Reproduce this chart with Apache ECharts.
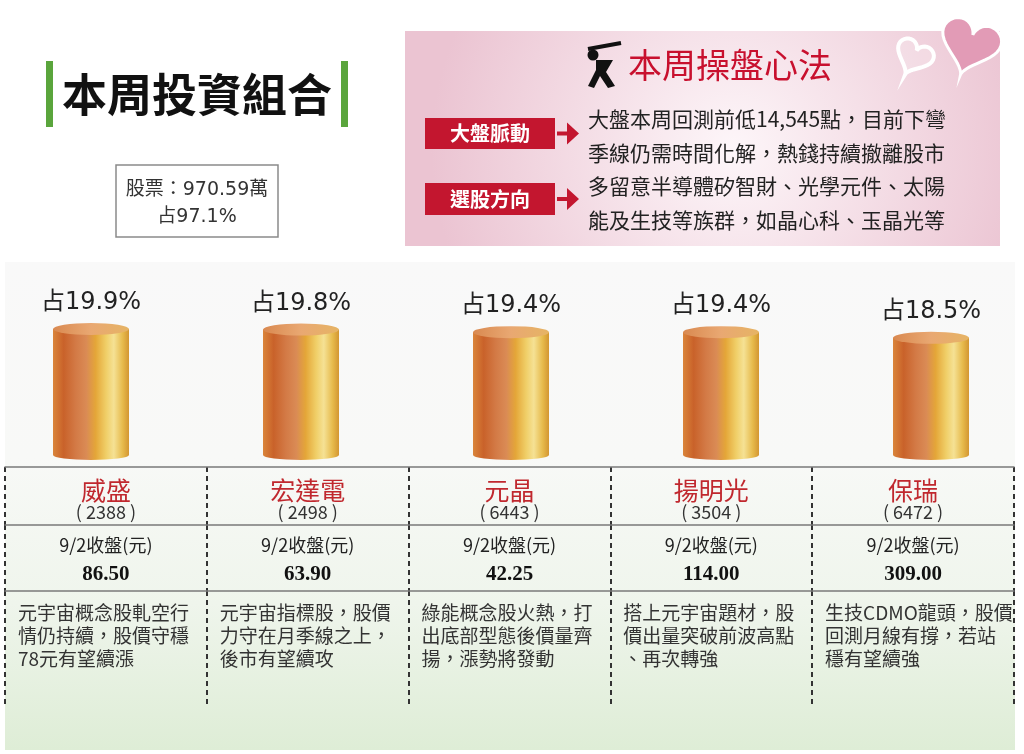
<!DOCTYPE html>
<html>
<head>
<meta charset="utf-8">
<title>本周投資組合</title>
<script src="https://cdn.jsdelivr.net/npm/echarts@6/dist/echarts.min.js"></script>
<style>
  html, body { margin: 0; padding: 0; background: #fff; }
  #main { width: 1024px; height: 754px; }
</style>
</head>
<body>
<div id="main"></div>
<script>
// 個股名稱、代號
var names = ['威盛', '宏達電', '元晶', '揚明光', '保瑞'];
var codes = ['2388', '2498', '6443', '3504', '6472'];
// 持股比重(%)
var weights = [19.9, 19.8, 19.4, 19.4, 18.5];
// 收盤價(元)
var closeDate = '9/2';
var closes = ['86.50', '63.90', '42.25', '114.00', '309.00'];
// 個股短評(照原圖斷行)
var notes = [
  ['元宇宙概念股軋空行', '情仍持續，股價守穩', '78元有望續漲'],
  ['元宇宙指標股，股價', '力守在月季線之上，', '後市有望續攻'],
  ['綠能概念股火熱，打', '出底部型態後價量齊', '揚，漲勢將發動'],
  ['搭上元宇宙題材，股', '價出量突破前波高點', '、再次轉強'],
  ['生技CDMO龍頭，股價', '回測月線有撐，若站', '穩有望續強']
];
// 股票部位
var stockAmount = '970.59萬';
var stockShare = 97.1;
// 本周操盤心法
var tipTitle = '本周操盤心法';
var tipTags = ['大盤脈動', '選股方向'];
var tipLines = [
  '大盤本周回測前低14,545點，目前下彎',
  '季線仍需時間化解，熱錢持續撤離股市',
  '多留意半導體矽智財、光學元件、太陽',
  '能及生技等族群，如晶心科、玉晶光等'
];

var CJK = '"Noto Sans CJK TC"';
var myChart = echarts.init(document.getElementById('main'));

// 圓柱身的金橘色漸層
var bodyColor = new echarts.graphic.LinearGradient(0, 0, 1, 0, [
  { offset: 0, color: '#da853a' },
  { offset: 0.14, color: '#c9622a' },
  { offset: 0.3, color: '#d37a46' },
  { offset: 0.44, color: '#da8b55' },
  { offset: 0.56, color: '#e4a638' },
  { offset: 0.7, color: '#f0cf68' },
  { offset: 0.8, color: '#f5e194' },
  { offset: 0.92, color: '#e6b94a' },
  { offset: 1, color: '#d39632' }
]);
var topColor = new echarts.graphic.LinearGradient(0, 0, 1, 0, [
  { offset: 0, color: '#d98950' },
  { offset: 0.5, color: '#e9a872' },
  { offset: 1, color: '#e6b464' }
]);

// 表格的虛線分隔
var dashLine = { color: '#333', width: 2, type: [5, 4] };
var rowLine = { color: '#7a7a7a', width: 1.5 };

function tableAxis(gridIndex, margin, formatter, rich) {
  return {
    gridIndex: gridIndex,
    type: 'category',
    position: 'top',
    data: names,
    axisLine: { show: true, onZero: false, lineStyle: rowLine },
    axisTick: { show: false },
    splitLine: { show: true, lineStyle: dashLine },
    axisLabel: {
      inside: true,
      interval: 0,
      margin: margin,
      formatter: formatter,
      rich: rich
    }
  };
}

function textEl(x, y, text, font, fill, align) {
  return {
    type: 'text', z: 10, silent: true,
    style: {
      x: x, y: y, text: text, font: font, fill: fill,
      textAlign: align || 'center', textVerticalAlign: 'middle'
    }
  };
}

// 愛心外形(裝飾用)：以中心、大小、旋轉角度取點
function heartPoints(cx, cy, size, angle) {
  var pts = [];
  var s = size / 34;
  var ca = Math.cos(angle), sa = Math.sin(angle);
  for (var k = 0; k < 60; k++) {
    var t = k / 60 * Math.PI * 2;
    var x = 16 * Math.pow(Math.sin(t), 3) * s;
    var y = -(13 * Math.cos(t) - 5 * Math.cos(2 * t) - 2 * Math.cos(3 * t) - Math.cos(4 * t)) * s;
    pts.push([cx + x * ca - y * sa, cy + x * sa + y * ca]);
  }
  return pts;
}

var graphics = [
  // 下方淺綠底
  {
    type: 'rect', z: -10, silent: true,
    shape: { x: 5, y: 262, width: 1010, height: 488 },
    style: {
      fill: new echarts.graphic.LinearGradient(0, 0, 0, 1, [
        { offset: 0, color: '#f9f9f9' },
        { offset: 0.4, color: '#f8f9f7' },
        { offset: 0.7, color: '#eff5ec' },
        { offset: 1, color: '#deedd6' }
      ])
    }
  },
  // 標題
  { type: 'rect', z: 10, silent: true, shape: { x: 46, y: 61, width: 7, height: 66 }, style: { fill: '#5aa53c' } },
  { type: 'rect', z: 10, silent: true, shape: { x: 341, y: 61, width: 7, height: 66 }, style: { fill: '#5aa53c' } },
  textEl(197, 95, '本周投資組合', 'bold 45px ' + CJK, '#111'),
  // 股票部位框
  {
    type: 'rect', z: 10, silent: true,
    shape: { x: 116, y: 165, width: 162, height: 72 },
    style: { fill: '#fff', stroke: '#8a8a8a', lineWidth: 1.5 }
  },
  textEl(197, 190, '股票：' + stockAmount, '19px "DejaVu Sans", ' + CJK, '#333'),
  textEl(197, 217, '占' + stockShare + '%', '19px "DejaVu Sans", ' + CJK, '#333'),
  // 操盤心法粉紅框
  {
    type: 'rect', z: 5, silent: true,
    shape: { x: 405, y: 31, width: 595, height: 215 },
    style: {
      fill: new echarts.graphic.RadialGradient(0.55, 0.55, 1.4, [
        { offset: 0, color: '#fdf6f9' },
        { offset: 1, color: '#ebc4d2' }
      ])
    }
  },
  // 愛心
  {
    type: 'polygon', z: 11, silent: true,
    shape: { points: heartPoints(914, 56, 40, 0.45) },
    style: { fill: 'rgba(255,255,255,0.2)', stroke: '#fff', lineWidth: 4 }
  },
  {
    type: 'polygon', z: 12, silent: true,
    shape: { points: heartPoints(970, 44, 64, 0.3) },
    style: { fill: '#e29bb6', stroke: '#fff', lineWidth: 3 }
  },
  // 高爾夫小圖示
  {
    type: 'line', z: 11, silent: true,
    shape: { x1: 588, y1: 49, x2: 621, y2: 43 },
    style: { stroke: '#111', lineWidth: 4 }
  },
  { type: 'circle', z: 11, silent: true, shape: { cx: 593, cy: 55, r: 5.5 }, style: { fill: '#111' } },
  {
    type: 'polygon', z: 11, silent: true,
    shape: { points: [[596, 60], [613, 60], [606, 72], [615, 86], [608, 88], [600, 76], [594, 88], [588, 86], [596, 70]] },
    style: { fill: '#111' }
  },
  textEl(628, 65, tipTitle, '34px ' + CJK, '#c8102e', 'left')
];

// 紅色標籤與箭頭
[[118, 31], [183, 32]].forEach(function (b, i) {
  var cy = b[0] + b[1] / 2;
  graphics.push({
    type: 'rect', z: 10, silent: true,
    shape: { x: 425, y: b[0], width: 130, height: b[1] },
    style: { fill: '#c3162f' }
  });
  graphics.push(textEl(490, cy, tipTags[i], 'bold 20px ' + CJK, '#fff'));
  graphics.push({
    type: 'polygon', z: 10, silent: true,
    shape: { points: [[557, cy - 2], [567, cy - 2], [567, cy - 11], [579, cy], [567, cy + 11], [567, cy + 2], [557, cy + 2]] },
    style: { fill: '#c3162f' }
  });
});

// 心法內文
[119, 153, 186, 220].forEach(function (y, i) {
  graphics.push(textEl(588, y, tipLines[i], '21px ' + CJK, '#222', 'left'));
});

var option = {
  animation: false,
  backgroundColor: '#fff',
  graphic: { elements: graphics },
  grid: [
    // 圓柱圖
    { left: -14, width: 1050, top: 265, bottom: 299, outerBoundsMode: 'none' },
    // 表格三列
    { left: 5, right: 10, top: 467, height: 58, outerBoundsMode: 'none' },
    { left: 5, right: 10, top: 525, height: 66, outerBoundsMode: 'none' },
    { left: 5, right: 10, top: 591, height: 116, outerBoundsMode: 'none' }
  ],
  xAxis: [
    { gridIndex: 0, type: 'category', data: names, show: false },
    tableAxis(1, 10, function (v, i) {
      return '{n|' + v + '}\n{c|( ' + codes[i] + ' )}';
    }, {
      n: { fontSize: 25, color: '#c0282e', fontFamily: CJK, lineHeight: 26 },
      c: { fontSize: 18, color: '#333', fontFamily: CJK, lineHeight: 18 }
    }),
    tableAxis(2, 7, function (v, i) {
      return '{d|' + closeDate + '收盤(元)}\n{p|' + closes[i] + '}';
    }, {
      d: { fontSize: 18, color: '#222', fontFamily: CJK, lineHeight: 26 },
      p: { fontSize: 21, color: '#111', fontWeight: 'bold', fontFamily: 'Liberation Serif', lineHeight: 34 }
    }),
    tableAxis(3, 10, function (v, i) {
      return notes[i].map(function (t) { return '{t|' + t + '}'; }).join('\n');
    }, {
      t: { fontSize: 19, color: '#333', fontFamily: CJK, lineHeight: 23, width: 176, align: 'left' }
    })
  ],
  yAxis: [
    { gridIndex: 0, type: 'value', min: 0, max: 30, show: false },
    { gridIndex: 1, type: 'value', show: false },
    { gridIndex: 2, type: 'value', show: false },
    { gridIndex: 3, type: 'value', show: false }
  ],
  series: [
    {
      name: '底',
      type: 'pictorialBar',
      xAxisIndex: 0, yAxisIndex: 0,
      symbol: 'circle',
      symbolSize: [76, 10],
      symbolOffset: [0, '50%'],
      z: 1,
      itemStyle: { color: bodyColor },
      data: weights
    },
    {
      name: '比重',
      type: 'bar',
      xAxisIndex: 0, yAxisIndex: 0,
      barWidth: 76,
      z: 2,
      itemStyle: { color: bodyColor },
      label: {
        show: true,
        position: 'top',
        distance: 14,
        formatter: '占{c}%',
        fontSize: 24,
        color: '#222',
        fontFamily: '"DejaVu Sans", ' + CJK
      },
      data: weights
    },
    {
      name: '頂',
      type: 'pictorialBar',
      xAxisIndex: 0, yAxisIndex: 0,
      symbol: 'circle',
      symbolSize: [76, 12],
      symbolPosition: 'end',
      symbolOffset: [0, '-50%'],
      z: 3,
      itemStyle: { color: topColor },
      data: weights
    }
  ]
};

myChart.setOption(option);
window.addEventListener('resize', function () {
  myChart.resize();
});
</script>
</body>
</html>
